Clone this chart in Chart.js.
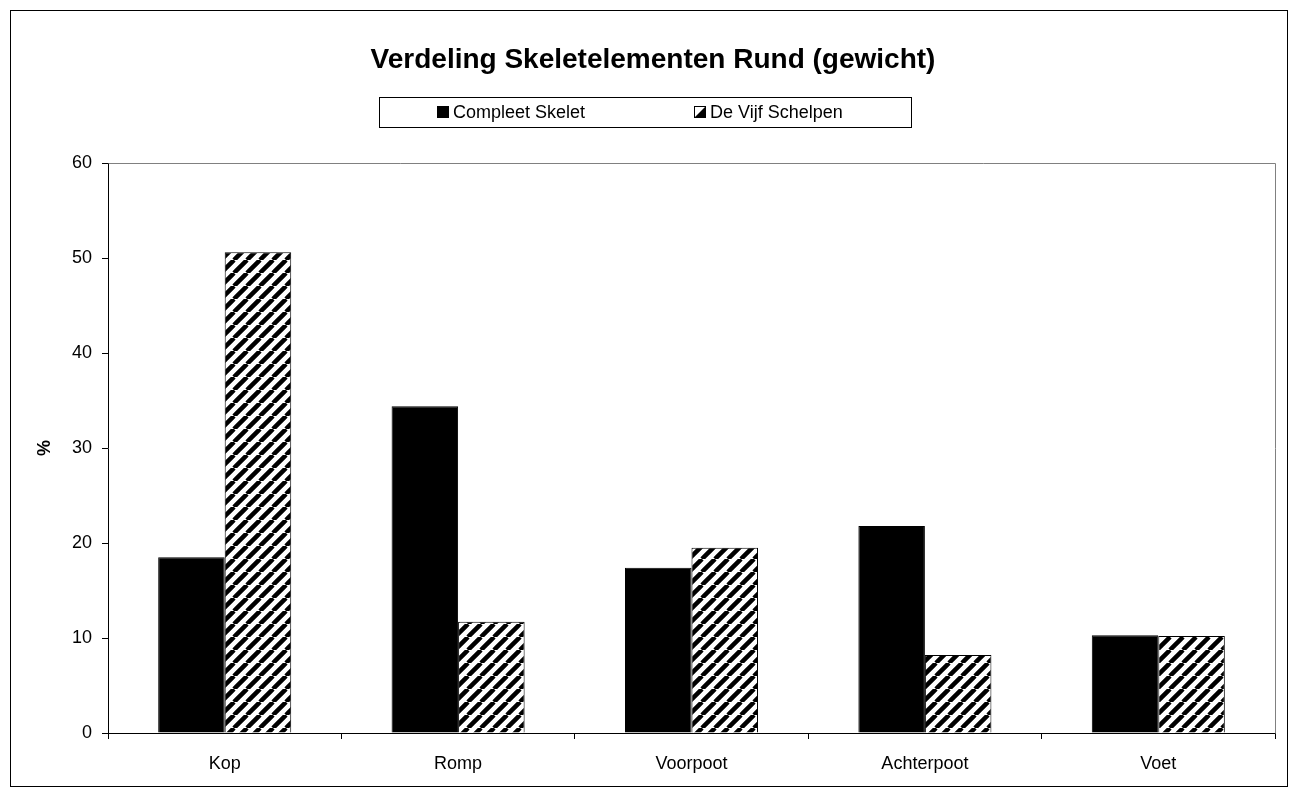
<!DOCTYPE html>
<html>
<head>
<meta charset="utf-8">
<script src="https://cdn.jsdelivr.net/npm/chart.js@4/dist/chart.umd.min.js"></script>
<style>
  html, body { margin: 0; padding: 0; background: #ffffff; }
  #c { display: block; }
</style>
</head>
<body>
<canvas id="c" width="1298" height="796"></canvas>
<script>
// Skeleton element distribution for cattle (share of weight, %)
const categories = ['Kop', 'Romp', 'Voorpoot', 'Achterpoot', 'Voet'];
const compleetSkelet = [18.5, 34.4, 17.4, 21.8, 10.3];
const deVijfSchelpen = [50.6, 11.7, 19.5, 8.2, 10.2];
const seriesNames = ['Compleet Skelet', 'De Vijf Schelpen'];
const yTicks = [0, 10, 20, 30, 40, 50, 60];
const chartTitle = 'Verdeling Skeletelementen Rund (gewicht)';
const yAxisTitle = '%';

const FONT = '"Liberation Sans", Arial, sans-serif';

// Diagonal black/white hatch fill ("/" direction)
function makeHatch(size, lineW) {
  const c = document.createElement('canvas');
  c.width = size; c.height = size;
  const g = c.getContext('2d');
  g.fillStyle = '#ffffff';
  g.fillRect(0, 0, size, size);
  g.strokeStyle = '#000000';
  g.lineWidth = lineW;
  g.beginPath();
  for (let k = -1; k <= 1; k++) {
    g.moveTo(k * size, size);
    g.lineTo(k * size + size, 0);
  }
  g.stroke();
  return g.createPattern(c, 'repeat');
}

const ctx = document.getElementById('c').getContext('2d');
const hatch = makeHatch(13, 4.5);

// Frame, plot-area box, title and boxed legend
const decorations = {
  id: 'decorations',
  beforeDraw(chart) {
    const g = chart.ctx;
    g.save();
    g.fillStyle = '#ffffff';
    g.fillRect(0, 0, chart.width, chart.height);
    g.restore();
  },
  afterDraw(chart) {
    const g = chart.ctx;
    const a = chart.chartArea;
    g.save();
    // plot area top/right edge
    g.strokeStyle = '#808080';
    g.lineWidth = 1;
    g.beginPath();
    g.moveTo(Math.round(a.left) + 0.5, Math.round(a.top) + 0.5);
    g.lineTo(Math.round(a.right) + 0.5, Math.round(a.top) + 0.5);
    g.lineTo(Math.round(a.right) + 0.5, Math.round(a.bottom) + 0.5);
    g.stroke();

    // outer frame
    g.strokeStyle = '#000000';
    g.strokeRect(10.5, 10.5, 1277, 776);

    // title
    g.fillStyle = '#000000';
    g.font = 'bold 28px ' + FONT;
    g.textAlign = 'center';
    g.textBaseline = 'middle';
    g.fillText(chartTitle, 653, 60);

    // legend box
    g.strokeStyle = '#000000';
    g.strokeRect(379.5, 97.5, 532, 30);
    g.font = '18px ' + FONT;
    g.textAlign = 'left';
    const ly = 112;
    // item 1: solid black
    g.fillStyle = '#000000';
    g.fillRect(437, ly - 6, 12, 12);
    g.fillText(seriesNames[0], 453, ly + 1);
    // item 2: hatch swatch (split square)
    g.fillStyle = '#ffffff';
    g.fillRect(694, ly - 6, 12, 12);
    g.fillStyle = '#000000';
    g.beginPath();
    g.moveTo(694, ly + 6);
    g.lineTo(706, ly - 6);
    g.lineTo(706, ly + 6);
    g.closePath();
    g.fill();
    g.strokeRect(694.5, ly - 5.5, 11, 11);
    g.fillText(seriesNames[1], 710, ly + 1);
    g.restore();
  }
};

new Chart(ctx, {
  type: 'bar',
  data: {
    labels: categories,
    datasets: [
      {
        label: seriesNames[0],
        data: compleetSkelet,
        backgroundColor: '#000000',
        borderColor: '#000000',
        borderWidth: 1
      },
      {
        label: seriesNames[1],
        data: deVijfSchelpen,
        backgroundColor: hatch,
        borderColor: '#000000',
        borderWidth: 1
      }
    ]
  },
  options: {
    responsive: false,
    animation: false,
    events: [],
    devicePixelRatio: 1,
    layout: { padding: { top: 163, right: 23, left: 20, bottom: 0 } },
    datasets: { bar: { categoryPercentage: 0.57, barPercentage: 1.0 } },
    plugins: {
      legend: { display: false },
      title: { display: false },
      tooltip: { enabled: false }
    },
    scales: {
      x: {
        grid: { display: true, drawOnChartArea: false, offset: true, tickLength: 6, color: '#000000' },
        border: { display: true, color: '#000000', width: 1 },
        ticks: { color: '#000000', padding: 14, font: { family: FONT, size: 18 } },
        afterFit(scale) { scale.height = 63; }
      },
      y: {
        min: 0,
        max: 60,
        afterBuildTicks(scale) { scale.ticks = yTicks.map(v => ({ value: v })); },
        grid: { display: true, drawOnChartArea: false, tickLength: 6, color: '#000000' },
        border: { display: true, color: '#000000', width: 1 },
        ticks: { color: '#000000', padding: 10, font: { family: FONT, size: 18 } },
        title: {
          display: true,
          text: yAxisTitle,
          color: '#000000',
          font: { family: FONT, size: 18, weight: 'bold' },
          padding: { top: 14, bottom: 0 }
        },
        afterFit(scale) { scale.width = 88; }
      }
    }
  },
  plugins: [decorations]
});
</script>
</body>
</html>
